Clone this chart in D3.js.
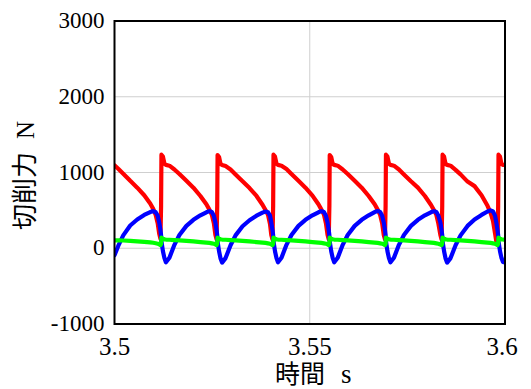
<!DOCTYPE html>
<html>
<head>
<meta charset="utf-8">
<script src="https://cdn.jsdelivr.net/npm/d3@7"></script>
<style>
  html, body { margin: 0; padding: 0; background: #ffffff; }
  svg { display: block; }
</style>
</head>
<body>
<svg id="chart" width="531" height="389"></svg>
<script>
// ---- data ----
const timeS = [
  3.500000, 3.500959, 3.502238, 3.504028, 3.505818, 3.507609, 3.509143, 3.509910, 3.510550, 3.511061, 3.511458, 3.511765, 3.511931,
  3.512020, 3.512404, 3.512788, 3.513171, 3.514066, 3.515345, 3.516624, 3.518414, 3.520205, 3.521995, 3.523529, 3.524297, 3.524936, 3.525448, 3.525831, 3.526138, 3.526304,
  3.526394, 3.526777, 3.527161, 3.527545, 3.528440, 3.529719, 3.530997, 3.532788, 3.534578, 3.536368, 3.537903, 3.538670, 3.539309, 3.539821, 3.540153, 3.540460, 3.540626,
  3.540716, 3.541100, 3.541483, 3.541867, 3.542762, 3.544041, 3.545320, 3.547110, 3.548900, 3.550690, 3.552225, 3.552992, 3.553632, 3.554143, 3.554552, 3.554859, 3.555026,
  3.555115, 3.555499, 3.555882, 3.556266, 3.557161, 3.558440, 3.559719, 3.561509, 3.563299, 3.565089, 3.566624, 3.567391, 3.568031, 3.568542, 3.568951, 3.569258, 3.569424,
  3.569514, 3.569898, 3.570281, 3.570665, 3.571560, 3.572839, 3.574118, 3.575908, 3.577698, 3.579488, 3.581023, 3.581790, 3.582430, 3.582941, 3.583453, 3.583760, 3.583926,
  3.584015, 3.584399, 3.584783, 3.585166, 3.586061, 3.587340, 3.588619, 3.590409, 3.592199, 3.593990, 3.595524, 3.596291, 3.596931, 3.597442, 3.597775, 3.598082, 3.598249,
  3.598337, 3.598721, 3.599105, 3.599488, 3.600000
];

// red: principal cutting force
const forceRed = [
  1096, 1050, 985, 890, 800, 700, 590, 520, 440, 330, 190, 125, 560,
  1235, 1210, 1115, 1100, 1090, 1040, 980, 890, 800, 690, 580, 510, 440, 330, 180, 120, 560,
  1230, 1205, 1110, 1100, 1085, 1040, 975, 885, 795, 690, 575, 505, 440, 320, 175, 115, 560,
  1235, 1210, 1115, 1100, 1090, 1045, 980, 890, 800, 695, 580, 510, 445, 330, 180, 120, 560,
  1230, 1205, 1110, 1100, 1090, 1040, 980, 890, 800, 690, 580, 510, 440, 330, 175, 120, 560,
  1235, 1210, 1115, 1100, 1090, 1040, 975, 885, 800, 690, 575, 505, 440, 325, 175, 115, 560,
  1235, 1210, 1110, 1100, 1090, 1035, 975, 880, 820, 700, 560, 470, 360, 200, 90, 60, 560,
  1235, 1210, 1110, 1100, 1100
];

// blue: thrust force
const forceBlue = [
  -92, 30, 170, 300, 380, 440, 478, 490, 475, 430, 340, 240, 170,
  90, -40, -130, -185, -125, 45, 175, 295, 375, 435, 475, 490, 478, 430, 340, 240, 170,
  90, -40, -135, -190, -130, 40, 170, 290, 370, 430, 470, 485, 475, 430, 340, 240, 170,
  90, -40, -130, -185, -125, 45, 175, 295, 375, 435, 475, 490, 478, 430, 340, 240, 170,
  90, -40, -130, -185, -125, 45, 175, 295, 375, 435, 478, 492, 480, 430, 340, 240, 170,
  90, -40, -130, -185, -125, 45, 175, 295, 375, 435, 475, 490, 478, 430, 340, 240, 170,
  90, -40, -135, -190, -130, 40, 170, 295, 380, 440, 485, 500, 485, 430, 340, 240, 170,
  90, -40, -130, -180, -188
];

// green: feed force
const forceGreen = [
  105, 105, 102, 98, 92, 85, 78, 72, 66, 60, 50, 42, 58,
  140, 125, 118, 115, 112, 108, 104, 98, 90, 82, 74, 70, 65, 60, 50, 42, 58,
  140, 125, 118, 115, 112, 108, 104, 98, 90, 82, 74, 70, 65, 60, 50, 42, 58,
  140, 125, 118, 115, 112, 108, 104, 98, 90, 82, 74, 70, 65, 60, 50, 42, 58,
  140, 125, 118, 115, 112, 108, 104, 98, 90, 82, 74, 70, 65, 60, 50, 42, 58,
  140, 125, 118, 115, 112, 108, 104, 98, 90, 82, 74, 70, 65, 60, 50, 42, 58,
  140, 125, 118, 115, 112, 108, 104, 98, 90, 82, 74, 70, 65, 60, 50, 42, 58,
  140, 125, 118, 115, 110
];

const xTicks = [3.5, 3.55, 3.6];
const xTickLabels = ["3.5", "3.55", "3.6"];
const yTicks = [-1000, 0, 1000, 2000, 3000];
const yTickLabels = ["-1000", "0", "1000", "2000", "3000"];
const xTitle = ["時間", "s"];
const yTitle = ["切削力", "N"];

// ---- layout ----
const plot = { left: 114.5, right: 505, top: 21, bottom: 324 };
const svg = d3.select("#chart");

const xScale = d3.scaleLinear().domain([3.5, 3.6]).range([plot.left, plot.right]);
const yScale = d3.scaleLinear().domain([-1000, 3000]).range([plot.bottom, plot.top]);

const SERIF = '"Liberation Serif"';
const CJK = '"Noto Sans CJK JP"';

// grid
const grid = svg.append("g").attr("stroke", "#cfcfcf").attr("stroke-width", 1);
grid.selectAll("line.gx")
  .data(xTicks.filter(t => t > 3.5 && t < 3.6))
  .join("line")
  .attr("x1", d => xScale(d)).attr("x2", d => xScale(d))
  .attr("y1", plot.top).attr("y2", plot.bottom);
grid.selectAll("line.gy")
  .data(yTicks.filter(t => t > -1000 && t < 3000))
  .join("line")
  .attr("x1", plot.left).attr("x2", plot.right)
  .attr("y1", d => yScale(d)).attr("y2", d => yScale(d));

// lines
const series = [
  { values: forceRed, color: "#ff0000" },
  { values: forceBlue, color: "#0000ff" },
  { values: forceGreen, color: "#00ff00" }
];
const lineGen = d3.line().x(d => xScale(d[0])).y(d => yScale(d[1]));
svg.append("defs").append("clipPath").attr("id", "plotclip")
  .append("rect")
  .attr("x", plot.left).attr("y", plot.top)
  .attr("width", plot.right - plot.left).attr("height", plot.bottom - plot.top);
const lines = svg.append("g").attr("clip-path", "url(#plotclip)");
series.forEach(s => {
  lines.append("path")
    .datum(timeS.map((t, i) => [t, s.values[i]]))
    .attr("fill", "none")
    .attr("stroke", s.color)
    .attr("stroke-width", 4.2)
    .attr("stroke-linejoin", "round")
    .attr("stroke-linecap", "round")
    .attr("d", lineGen);
});

// frame
svg.append("rect")
  .attr("x", plot.left).attr("y", plot.top)
  .attr("width", plot.right - plot.left).attr("height", plot.bottom - plot.top)
  .attr("fill", "none").attr("stroke", "#000").attr("stroke-width", 2);

// tick labels, placed with the scales
xTicks.forEach((t, i) => {
  svg.append("text")
    .attr("x", xScale(t) + (i === xTicks.length - 1 ? -3 : 0))
    .attr("y", plot.bottom + 31)
    .attr("text-anchor", "middle")
    .attr("fill", "#000")
    .style("font-family", SERIF).style("font-size", "25px")
    .text(xTickLabels[i]);
});
yTicks.forEach((t, i) => {
  svg.append("text")
    .attr("x", plot.left - 10)
    .attr("y", yScale(t) + 7)
    .attr("text-anchor", "end")
    .attr("fill", "#000")
    .style("font-family", SERIF).style("font-size", "23px")
    .text(yTickLabels[i]);
});

// axis titles
const xt = svg.append("text").attr("x", 275).attr("y", 383).attr("fill", "#000");
xt.append("tspan").style("font-family", CJK).style("font-size", "25px").text(xTitle[0]);
xt.append("tspan").style("font-family", SERIF).style("font-size", "27px").attr("dx", 16).text(xTitle[1]);

const yt = svg.append("text")
  .attr("transform", "translate(34,175.5) rotate(-90)")
  .attr("text-anchor", "middle").attr("fill", "#000");
yt.append("tspan").style("font-family", CJK).style("font-size", "26px").text(yTitle[0]);
yt.append("tspan").style("font-family", SERIF).style("font-size", "25px").attr("dx", 13).text(yTitle[1]);
</script>
</body>
</html>
